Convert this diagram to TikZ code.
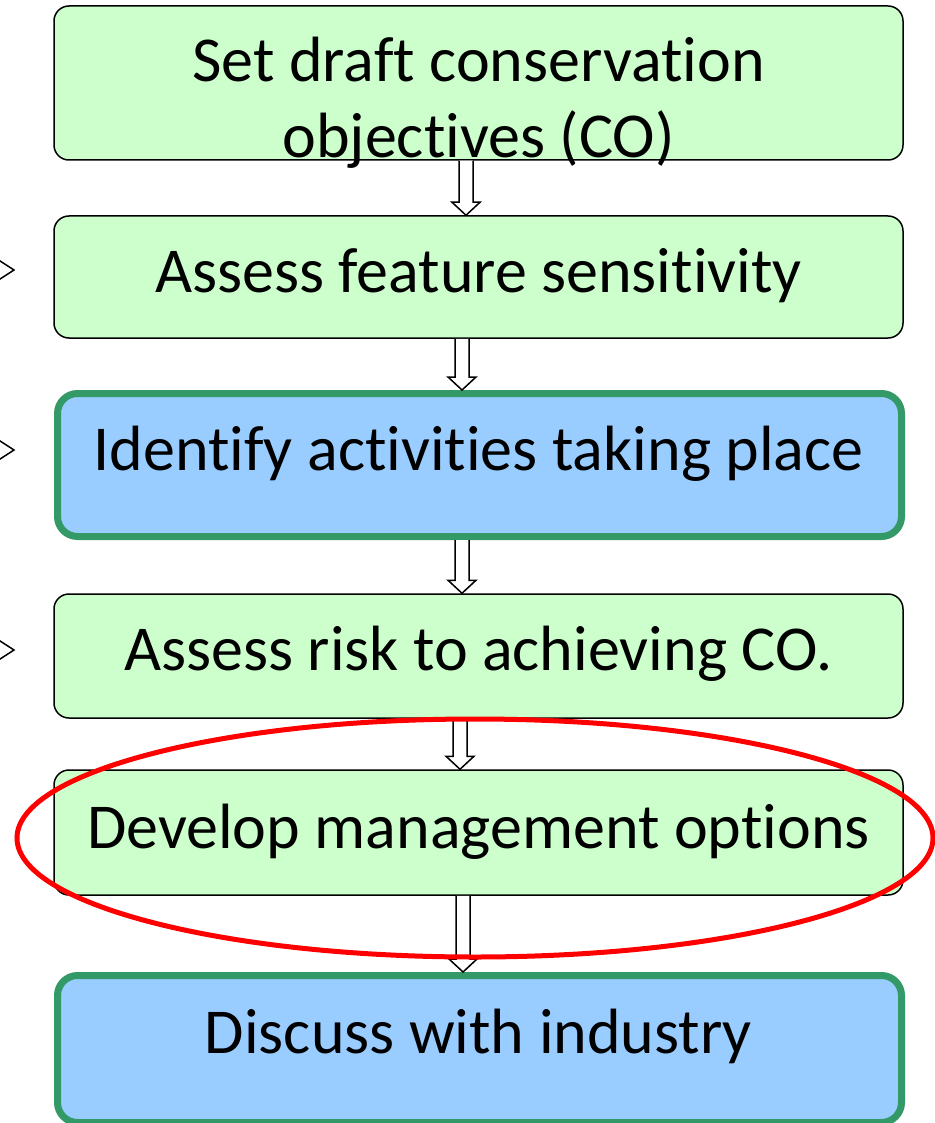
\documentclass[tikz,border=0pt]{standalone}
\usepackage{fontspec}
\setmainfont[Ligatures={NoCommon,NoDiscretionary,NoContextual}]{Carlito}
\usetikzlibrary{calc,shapes.geometric}
\definecolor{boxgreen}{HTML}{CCFFCC}
\definecolor{boxblue}{HTML}{99CCFF}
\definecolor{edgegreen}{HTML}{339966}
\tikzset{
  greenbox/.style={draw=black, line width=1.5pt, fill=boxgreen, rounded corners=15pt, minimum width=849pt, inner sep=0pt},
  bluebox/.style={draw=edgegreen, line width=7pt, fill=boxblue, rounded corners=20pt, minimum width=844pt, inner sep=0pt},
  boxtext/.style={font=\fontsize{64}{76}\selectfont, anchor=base, inner sep=0pt, align=center},
  blockarr/.style={draw=black, line width=1.5pt, fill=white},
  chevron/.style={draw=black, line width=1.5pt},
  redring/.style={draw=red, line width=5pt}
}
\newcommand\blockdown[3]{%
  \draw[blockarr] let \p1=(#1.south), \p2=(#2.north) in
    ({#3-7},\y1) -- ({#3-7},\y2+13pt) -- ({#3-14},\y2+13pt) -- (#3,\y2)
    -- ({#3+14},\y2+13pt) -- ({#3+7},\y2+13pt) -- ({#3+7},\y1);}
\begin{document}
\begin{tikzpicture}[x=1pt,y=-1pt]
\useasboundingbox (0,0) rectangle (934,1123);
% boxes
\node[greenbox, minimum height=154pt] (b1) at (478.5,83) {};
\node[greenbox, minimum height=122pt] (b2) at (478.5,277) {};
\node[bluebox, minimum height=143pt] (b3) at (479.5,465) {};
\node[greenbox, minimum height=124pt] (b4) at (478.5,656) {};
\node[greenbox, minimum height=125pt] (b5) at (478.5,832.5) {};
\node[bluebox, minimum height=147pt] (b6) at (479.5,1049) {};
% texts
\node[boxtext] (t1) at (478.5,158) {Set draft conservation\\objectives (CO)};
\node[boxtext] (t2) at (478.5,292) {Assess feature sensitivity};
\node[boxtext] (t3) at (478.5,470) {Identify activities taking place};
\node[boxtext] (t4) at (478.5,670) {Assess risk to achieving CO.};
\node[boxtext] (t5) at (478.5,848) {Develop management options};
\node[boxtext] (t6) at (478.5,1053) {Discuss with industry};
% block arrows
\blockdown{b1}{b2}{466}
\blockdown{b2}{b3}{462}
\blockdown{b3}{b4}{462}
\blockdown{b4}{b5}{460}
\blockdown{b5}{b6}{463}
% chevrons at left edge
\coordinate (c1) at (14,270);
\coordinate (c2) at (14,450);
\coordinate (c3) at (14,650);
\draw[chevron] ($(c1)+(-17,-11)$) -- (c1) -- ($(c1)+(-17,11)$);
\draw[chevron] ($(c2)+(-17,-11)$) -- (c2) -- ($(c2)+(-17,11)$);
\draw[chevron] ($(c3)+(-17,-11)$) -- (c3) -- ($(c3)+(-17,11)$);
% red ellipse
\node[redring, ellipse, minimum width=916pt, minimum height=238pt, inner sep=0pt] (ring) at (475,838) {};
\end{tikzpicture}
\end{document}
